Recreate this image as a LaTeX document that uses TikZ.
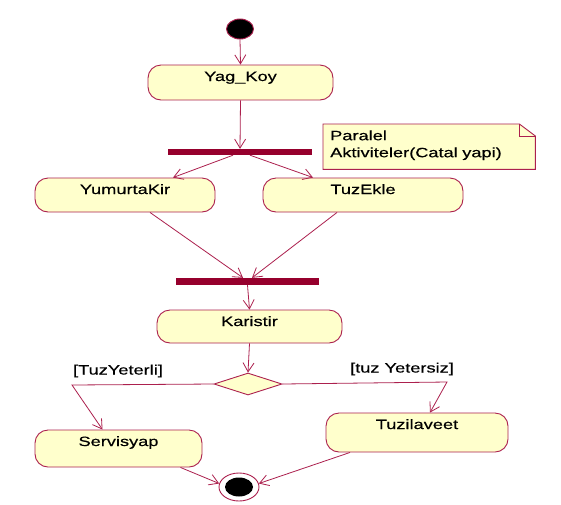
\documentclass[tikz,border=0pt]{standalone}
\usepackage{fontspec}
\setmainfont{Liberation Sans}[FakeStretch=1.35,FakeBold=0.4]
\usetikzlibrary{arrows.meta,shapes.geometric,backgrounds}
\definecolor{linec}{RGB}{172,32,78}
\definecolor{barc}{RGB}{150,0,45}
\definecolor{fillc}{RGB}{255,255,204}
\begin{document}
\begin{tikzpicture}[x=1pt,y=-1pt,
  font=\fontsize{13.5}{17}\selectfont,
  act/.style={draw=linec,fill=fillc,line width=0.9pt,rounded corners=13pt,inner ysep=0pt,inner xsep=0pt,text height=16pt},
  barnode/.style={fill=barc,inner sep=0pt},
  conn/.style={draw=linec,line width=0.8pt,-{Straight Barb[length=9pt,width=11pt]}},
  plainconn/.style={draw=linec,line width=0.8pt},
  guard/.style={inner sep=0pt},
  notebox/.style={draw=linec,fill=fillc,line width=0.9pt}
]
\useasboundingbox (0,0) rectangle (561,504);

% start
\node[ellipse,draw=linec,fill=black,line width=0.9pt,minimum width=27pt,minimum height=20pt,inner sep=0pt] (start) at (240,29) {};

% activities
\node[act,minimum width=185pt,text depth=19pt] (yag) at (240.5,82.5) {Yag\_Koy};
\node[barnode,minimum width=144pt,minimum height=6pt] (bar1) at (240,152) {};
\node[act,minimum width=180pt,text depth=18pt] (yum) at (125,195) {YumurtaKir};
\node[act,minimum width=200pt,text depth=18pt] (tuz) at (363,195) {TuzEkle};
\node[barnode,minimum width=143pt,minimum height=7pt] (bar2) at (247.5,281.5) {};
\node[act,minimum width=185pt,text depth=17pt] (kar) at (249.5,326.5) {Karistir};
\node[diamond,draw=linec,fill=fillc,line width=0.9pt,aspect=3,minimum width=68pt,minimum height=22pt,inner sep=0pt] (dec) at (248,384) {};
\node[act,minimum width=167pt,text depth=21pt] (ser) at (118.5,448.5) {Servisyap};
\node[act,minimum width=182pt,text depth=23pt] (tuzi) at (417,432.5) {Tuzilaveet};

% end
\node[ellipse,draw=linec,fill=white,line width=0.9pt,minimum width=40pt,minimum height=28pt,inner sep=0pt] (endc) at (239,487) {};
\node[ellipse,fill=black,minimum width=28pt,minimum height=19pt,inner sep=0pt] (endin) at (239,487) {};

% note
\node[anchor=north west,inner xsep=7pt,inner ysep=0pt,text width=198pt,align=left,text height=16pt,text depth=29pt] (note) at (323,124) {Paralel\\Aktiviteler(Catal yapi)};
\begin{pgfonlayer}{background}
\fill[white] (0,0) rectangle (561,504);
\draw[notebox] (note.north west) -- ([xshift=-16pt]note.north east) -- ([yshift=-12pt]note.north east) -- (note.south east) -- (note.south west) -- cycle;
\draw[plainconn] ([xshift=-16pt]note.north east) -- ([xshift=-16pt,yshift=-12pt]note.north east) -- ([yshift=-12pt]note.north east);
\end{pgfonlayer}

% guards
\node[guard] (gL) at (118,371) {[TuzYeterli]};
\node[guard] (gR) at (402,369) {[tuz Yetersiz]};

\coordinate (cL) at (72,385);
\coordinate (cR) at (447,382);

% connectors
\draw[conn] (start.south) -- (yag.north);
\draw[conn] (yag.south) -- (bar1.north);
\draw[conn] ([xshift=-7pt]bar1.south) -- ([xshift=48pt]yum.north);
\draw[conn] ([xshift=10pt]bar1.south) -- ([xshift=-50pt]tuz.north);
\draw[conn] ([xshift=25pt]yum.south) -- ([xshift=-4.5pt]bar2.north);
\draw[conn] ([xshift=-26pt]tuz.south) -- ([xshift=4.5pt]bar2.north);
\draw[conn] (bar2.south) -- (kar.north);
\draw[conn] (kar.south) -- (dec.north);
\draw[conn] (dec.west) -- (cL) -- ([xshift=-16pt]ser.north);
\draw[conn] (dec.east) -- (cR) -- ([xshift=13pt]tuzi.north);
\draw[conn] ([xshift=62pt]ser.south) -- (endc.170);
\draw[conn] ([xshift=-67pt]tuzi.south) -- (endc.10);
\end{tikzpicture}
\end{document}
